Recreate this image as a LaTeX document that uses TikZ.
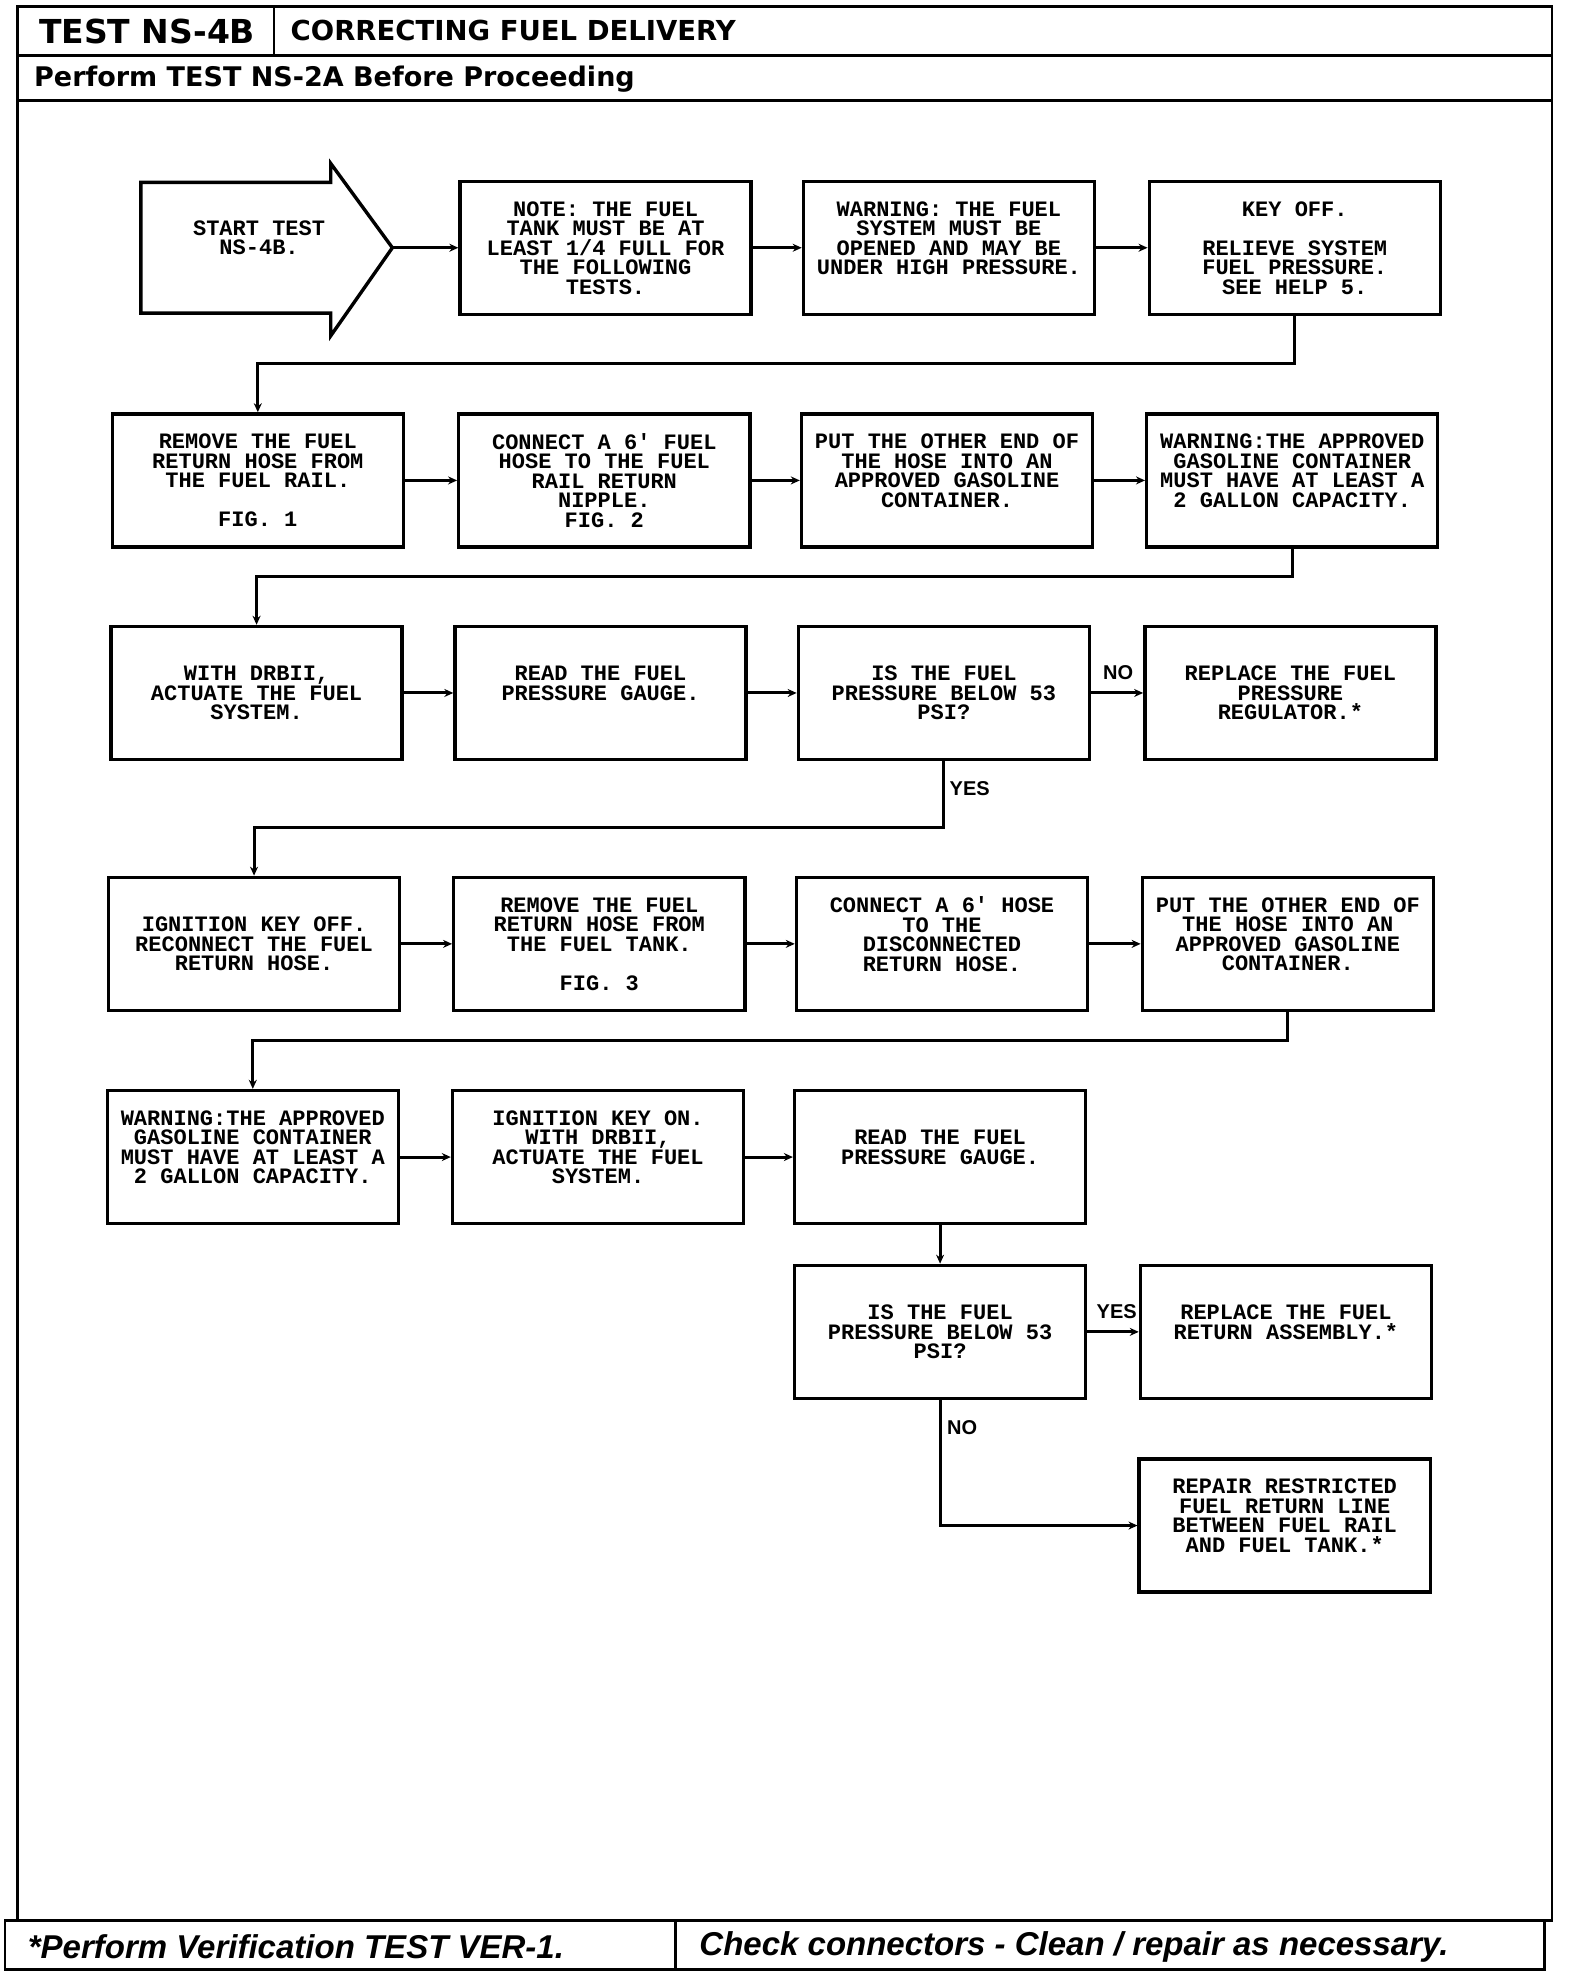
\documentclass[tikz,border=0pt]{standalone}
\usepackage{fontspec}
\setmainfont{Liberation Sans}
\newfontfamily\dotfont{Liberation Mono}
\newfontfamily\headfont{DejaVu Sans}
\usetikzlibrary{arrows.meta}
\begin{document}
\begin{tikzpicture}[x=1.2575pt,y=-1.2575pt,
  box/.style={draw,line width=3.4pt,minimum width=291pt,minimum height=133pt,inner sep=2pt,align=center,font=\dotfont\bfseries\fontsize{22}{19.5}\selectfont},
  conn/.style={line width=3pt,-{Stealth[length=9pt,width=8pt]}},
  frame/.style={line width=2.6pt},
  lbl/.style={font=\bfseries\fontsize{20}{22}\selectfont,inner sep=0pt},
  dottext/.style={align=center,inner sep=0pt,font=\dotfont\bfseries\fontsize{22}{19.5}\selectfont},
]
\useasboundingbox (0,0) rectangle (1247,1568);

% frame and header
\draw[frame] (14,5) rectangle (1234,1527);
\draw[frame] (14,44) -- (1234,44);
\draw[frame] (14,80) -- (1234,80);
\draw[frame] (218,5) -- (218,44);
\node[inner sep=0pt,font=\headfont\bfseries\fontsize{33}{36}\selectfont] (t1) at (117,25) {TEST NS-4B};
\node[anchor=west,inner sep=0pt,font=\headfont\bfseries\fontsize{27.5}{30}\selectfont] (t2) at (231,24) {CORRECTING FUEL DELIVERY};
\node[anchor=west,inner sep=0pt,font=\headfont\bfseries\fontsize{27}{30}\selectfont] (t3) at (27,63) {Perform TEST NS-2A Before Proceeding};

% footer
\draw[frame] (4,1527) rectangle (1228,1566);
\draw[frame] (537,1527) -- (537,1566);
\node[anchor=west,inner sep=0pt,font=\bfseries\itshape\fontsize{33}{36}\selectfont] (f1) at (22,1548) {*Perform Verification TEST VER-1.};
\node[anchor=west,inner sep=0pt,font=\bfseries\itshape\fontsize{33}{36}\selectfont] (f2) at (556,1548) {Check connectors - Clean / repair as necessary.};

% start arrow
\draw[line width=3.4pt,line join=miter] (112,145) -- (263,145) -- (263,130) -- (312,197) -- (263,267) -- (263,249) -- (112,249) -- cycle;
\coordinate (tip) at (312,197);
\node[dottext] (st) at (206,189) {START TEST\\NS-4B.};

% row 1
\node[box] (b2) at (481.5,197) {NOTE: THE FUEL\\TANK MUST BE AT\\LEAST 1/4 FULL FOR\\THE FOLLOWING\\TESTS.};
\node[box] (b3) at (754.5,197) {WARNING: THE FUEL\\SYSTEM MUST BE\\OPENED AND MAY BE\\UNDER HIGH PRESSURE.\\ \mbox{}};
\node[box] (b4) at (1029.5,197) {KEY OFF.\\ \mbox{}\\RELIEVE SYSTEM\\FUEL PRESSURE.\\SEE HELP 5.};

% row 2
\node[box] (b5) at (205,382) {REMOVE THE FUEL\\RETURN HOSE FROM\\THE FUEL RAIL.\\ \mbox{}\\FIG. 1};
\node[box] (b6) at (480.5,382) {CONNECT A 6' FUEL\\HOSE TO THE FUEL\\RAIL RETURN\\NIPPLE.\\FIG. 2};
\node[box] (b7) at (753,382) {PUT THE OTHER END OF\\THE HOSE INTO AN\\APPROVED GASOLINE\\CONTAINER.\\ \mbox{}};
\node[box] (b8) at (1027.5,382) {WARNING:THE APPROVED\\GASOLINE CONTAINER\\MUST HAVE AT LEAST A\\2 GALLON CAPACITY.\\ \mbox{}};

% row 3
\node[box] (b9) at (204,551) {WITH DRBII,\\ACTUATE THE FUEL\\SYSTEM.};
\node[box] (b10) at (477.5,551) {READ THE FUEL\\PRESSURE GAUGE.\\ \mbox{}};
\node[box] (b11) at (750.5,551) {IS THE FUEL\\PRESSURE BELOW 53\\PSI?};
\node[box] (b12) at (1026,551) {REPLACE THE FUEL\\PRESSURE\\REGULATOR.*};

% row 4
\node[box] (b13) at (202,750.5) {IGNITION KEY OFF.\\RECONNECT THE FUEL\\RETURN HOSE.};
\node[box] (b14) at (476.5,750.5) {REMOVE THE FUEL\\RETURN HOSE FROM\\THE FUEL TANK.\\ \mbox{}\\FIG. 3};
\node[box] (b15) at (749,750.5) {CONNECT A 6' HOSE\\TO THE\\DISCONNECTED\\RETURN HOSE.\\ \mbox{}};
\node[box] (b16) at (1024,750.5) {PUT THE OTHER END OF\\THE HOSE INTO AN\\APPROVED GASOLINE\\CONTAINER.\\ \mbox{}};

% row 5
\node[box] (b17) at (201,920) {WARNING:THE APPROVED\\GASOLINE CONTAINER\\MUST HAVE AT LEAST A\\2 GALLON CAPACITY.\\ \mbox{}};
\node[box] (b18) at (475.5,920) {IGNITION KEY ON.\\WITH DRBII,\\ACTUATE THE FUEL\\SYSTEM.\\ \mbox{}};
\node[box] (b19) at (747.5,920) {READ THE FUEL\\PRESSURE GAUGE.\\ \mbox{}};

% lower
\node[box] (b20) at (747.5,1059) {IS THE FUEL\\PRESSURE BELOW 53\\PSI?};
\node[box] (b21) at (1022.5,1059) {REPLACE THE FUEL\\RETURN ASSEMBLY.*\\ \mbox{}};
\node[box] (b22) at (1021.5,1213) {REPAIR RESTRICTED\\FUEL RETURN LINE\\BETWEEN FUEL RAIL\\AND FUEL TANK.*\\ \mbox{}};

% connectors
\coordinate (r1) at (0,289);
\coordinate (r2) at (0,458);
\coordinate (r3) at (0,658);
\coordinate (r4) at (0,827);

\draw[conn] (tip) -- (b2.west);
\draw[conn] (b2.east) -- (b3.west);
\draw[conn] (b3.east) -- (b4.west);
\draw[conn] (b4.south) -- (b4.south |- r1) -| (b5.north);
\draw[conn] (b5.east) -- (b6.west);
\draw[conn] (b6.east) -- (b7.west);
\draw[conn] (b7.east) -- (b8.west);
\draw[conn] (b8.south) -- (b8.south |- r2) -| (b9.north);
\draw[conn] (b9.east) -- (b10.west);
\draw[conn] (b10.east) -- (b11.west);
\draw[conn] (b11.east) -- (b12.west);
\draw[conn] (b11.south) -- (b11.south |- r3) -| (b13.north);
\draw[conn] (b13.east) -- (b14.west);
\draw[conn] (b14.east) -- (b15.west);
\draw[conn] (b15.east) -- (b16.west);
\draw[conn] (b16.south) -- (b16.south |- r4) -| (b17.north);
\draw[conn] (b17.east) -- (b18.west);
\draw[conn] (b18.east) -- (b19.west);
\draw[conn] (b19.south) -- (b20.north);
\draw[conn] (b20.east) -- (b21.west);
\draw[conn] (b20.south) |- (b22.west);

% labels
\node[lbl,anchor=west] (l1) at (877,535) {NO};
\node[lbl,anchor=west] (l2) at (755,627) {YES};
\node[lbl,anchor=east] (l3) at (904,1043) {YES};
\node[lbl,anchor=west] (l4) at (753,1135) {NO};
\end{tikzpicture}
\end{document}
